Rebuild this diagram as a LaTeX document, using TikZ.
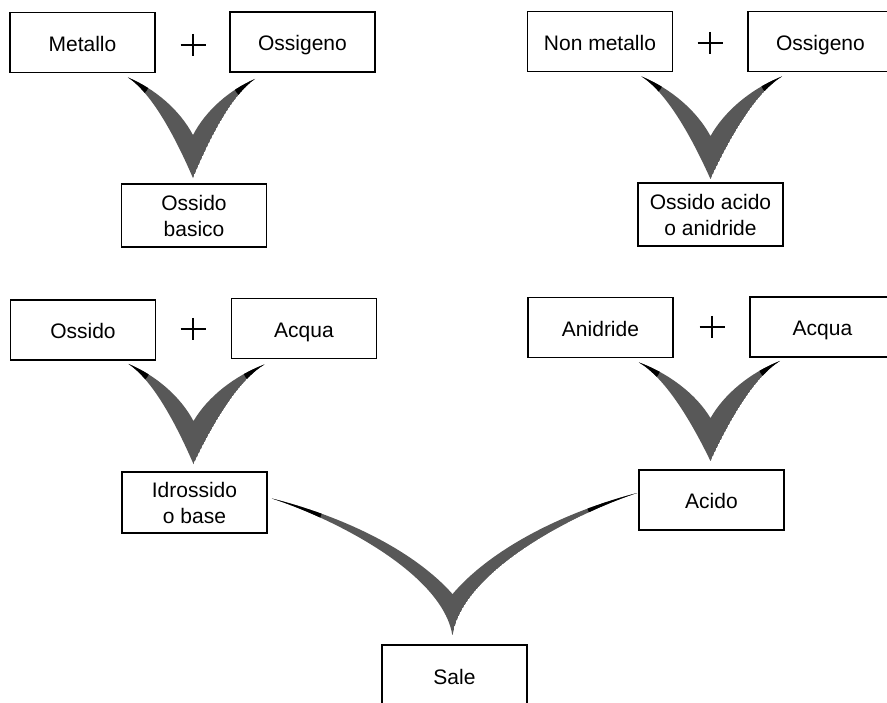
\documentclass[tikz,border=0pt]{standalone}
\usepackage{fontspec}
\setmainfont{Liberation Sans}
\usetikzlibrary{calc}
\definecolor{vgray}{RGB}{88,88,88}

% Shape factors of the outer edge of a V (set before each \vjoin)
\def\vca{0.35}\def\vcb{0.15}\def\vcc{0.3}\def\vcd{0.45}

% Crescent-shaped "V" joining two tips (#1, #2) to a point (#3);
% #4 is how far above the point the inner notch sits.
\newcommand{\vpath}[4]{%
  let \p1=(#1), \p2=(#2), \p3=(#3), \p4=($(#3)+(0,-#4)$) in
  (\p1) .. controls ({\x1+\vca*(\x3-\x1)},{\y1+\vcb*(\y3-\y1)})
               and ({\x3-\vcc*(\x3-\x1)},{\y3-\vcd*(\y3-\y1)}) .. (\p3)
        .. controls ({\x3-\vcc*(\x3-\x2)},{\y3-\vcd*(\y3-\y2)})
               and ({\x2+\vca*(\x3-\x2)},{\y2+\vcb*(\y3-\y2)}) .. (\p2)
        .. controls ({\x2+0.42*(\x4-\x2)},{\y2+0.2*(\y4-\y2)})
               and ({\x4-0.2*(\x4-\x2)},{\y4-0.43*(\y4-\y2)}) .. (\p4)
        .. controls ({\x4-0.2*(\x4-\x1)},{\y4-0.43*(\y4-\y1)})
               and ({\x1+0.42*(\x4-\x1)},{\y1+0.2*(\y4-\y1)}) .. (\p1) -- cycle}
% Filled V with darker tips; #5 is the length of the dark tip.
\newcommand{\vjoin}[5]{%
  \begin{scope}
    \clip \vpath{#1}{#2}{#3}{#4};
    \fill[vgray] \vpath{#1}{#2}{#3}{#4};
    \fill[black] (#1) circle (#5pt) (#2) circle (#5pt);
  \end{scope}}

\tikzset{
  box/.style={draw, line width=1.8pt, minimum width=145pt, minimum height=60pt,
    inner sep=0pt, align=center, font=\fontsize{21}{26}\selectfont},
  oneline/.style={box, text height=17.5pt, text depth=0pt},
  plussign/.style={line width=1.6pt},
}

\begin{document}
\begin{tikzpicture}[x=1pt, y=-1pt]
  \useasboundingbox (0,0) rectangle (887,703);
  \clip (0,0) rectangle (887,703);

  % first row: metal / non-metal + oxygen
  \node[oneline] (metallo) at (82.5,42.5) {Metallo};
  \node[oneline] (ossA)    at (302.5,42)  {Ossigeno};
  \node[oneline] (nonmet)  at (600,41.5)  {Non metallo};
  \node[oneline] (ossB)    at (820.5,41.5){Ossigeno};

  % oxides
  \node[box, minimum height=63pt] (ossbas)  at (194,215.5)  {Ossido\\basico};
  \node[box, minimum height=63pt] (ossacid) at (710.5,214.5){Ossido acido\\o anidride};

  % second row: oxide / anhydride + water
  \node[oneline] (ossido)   at (83,330)     {Ossido};
  \node[oneline] (acquaA)   at (304,328.5)  {Acqua};
  \node[oneline] (anidride) at (600.5,327.5){Anidride};
  \node[oneline] (acquaB)   at (822.5,327)  {Acqua};

  % products
  \node[box, minimum height=61pt] (idross) at (194.5,502.5) {Idrossido\\o base};
  \node[oneline] (acido) at (711.5,500) {Acido};
  \node[oneline, minimum height=62pt] (sale) at (454.5,676) {Sale};

  % plus signs
  \foreach \n/\px/\py in {pa/193/45, pb/710/43, pc/193/329, pd/712/327} {
    \coordinate (\n) at (\px,\py);
    \draw[plussign] ($(\n)+(-12.5,0)$) -- ($(\n)+(12.5,0)$)
                    ($(\n)+(0,-11)$) -- ($(\n)+(0,11)$);
  }

  % tips and points of the joining V shapes
  \coordinate (v1l) at ($(metallo.south east)+(-28,4)$);
  \coordinate (v1r) at ($(ossA.south west)+(26,6)$);
  \coordinate (v1b) at ($(ossbas.north)+(-1,-5)$);
  \coordinate (v2l) at ($(nonmet.south east)+(-32,4)$);
  \coordinate (v2r) at ($(ossB.south west)+(35,4)$);
  \coordinate (v2b) at ($(ossacid.north)+(0,-3)$);
  \coordinate (v3l) at ($(ossido.south east)+(-28,3)$);
  \coordinate (v3r) at ($(acquaA.south west)+(34,5)$);
  \coordinate (v3b) at ($(idross.north)+(-1,-7)$);
  \coordinate (v4l) at ($(anidride.south east)+(-35,4)$);
  \coordinate (v4r) at ($(acquaB.south west)+(31,3)$);
  \coordinate (v4b) at ($(acido.north)+(-1,-8)$);
  \coordinate (v5l) at ($(idross.east)+(4,-4)$);
  \coordinate (v5r) at ($(acido.west)+(-1,-7)$);
  \coordinate (v5b) at ($(sale.north)+(-2,-8)$);

  \vjoin{v1l}{v1r}{v1b}{43}{23}
  \vjoin{v2l}{v2r}{v2b}{43}{23}
  \vjoin{v3l}{v3r}{v3b}{43}{23}
  \vjoin{v4l}{v4r}{v4b}{43}{23}
  % the long, flatter V into the salt
  \def\vca{0.35}\def\vcb{0.15}\def\vcc{0.05}\def\vcd{0.45}
  \vjoin{v5l}{v5r}{v5b}{42}{52}
\end{tikzpicture}
\end{document}
